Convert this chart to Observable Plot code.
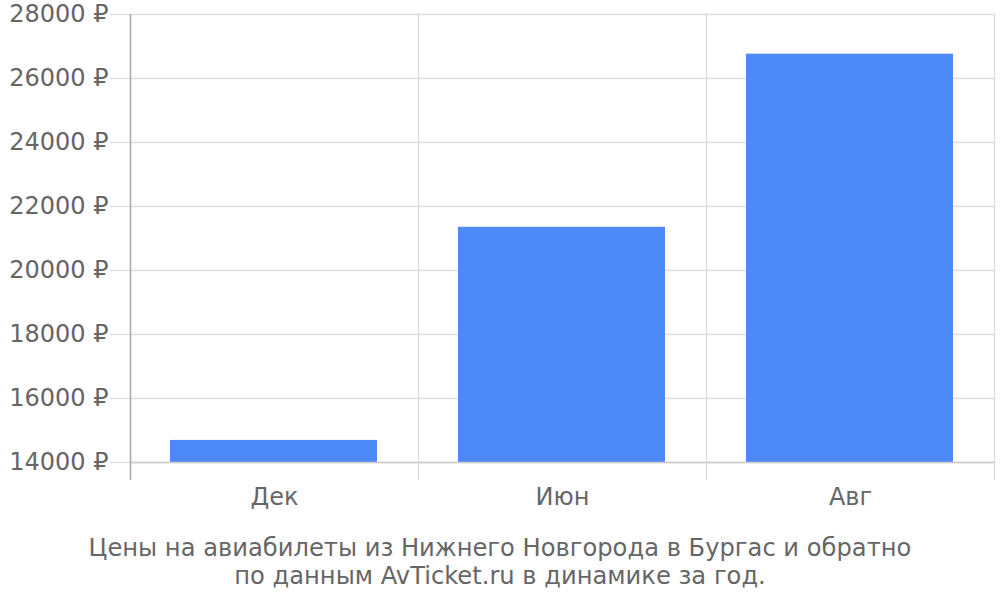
<!DOCTYPE html>
<html><head><meta charset="utf-8">
<script src="https://cdn.jsdelivr.net/npm/d3@7"></script>
<script src="https://cdn.jsdelivr.net/npm/@observablehq/plot@0.6"></script>
<style>
body{margin:0;background:#fff;font-family:"DejaVu Sans",sans-serif;}
#wrap{position:relative;width:1000px;height:600px;}
#cap{position:absolute;left:0;top:534px;width:1000px;text-align:center;color:#666;font-size:24.2px;line-height:28px;}
</style></head>
<body><div id="wrap"><div id="chart"></div>
<div id="cap">Цены на авиабилеты из Нижнего Новгорода в Бургас и обратно<br>по данным AvTicket.ru в динамике за год.</div></div>
<script>
const months = ["Дек", "Июн", "Авг"];
const prices = [14690, 21350, 26760];
const yTicks = [14000, 16000, 18000, 20000, 22000, 24000, 26000, 28000];

const data = months.map((m, i) => ({month: m, price: prices[i]}));
const bw = (1000 - 130 - 6) / months.length;

const chart = Plot.plot({
  width: 1000, height: 510,
  marginTop: 14, marginLeft: 130, marginRight: 6, marginBottom: 30,
  style: {fontFamily: "DejaVu Sans, sans-serif", fontSize: "24px", color: "#666", background: "#fff"},
  x: {domain: months, padding: 0},
  y: {domain: [14000, 28000], range: [462, 14]},
  marks: [
    Plot.ruleY(yTicks, {stroke: "#ddd", strokeWidth: 1.3, strokeOpacity: 1}),
    Plot.ruleX(months, {x: d => d, dx: -bw / 2, stroke: "#ddd", strokeWidth: 1.3}),
    Plot.ruleX([months[months.length - 1]], {x: d => d, dx: bw / 2, stroke: "#ddd", strokeWidth: 1.3}),
    Plot.barY(data, {x: "month", y1: 14000, y2: "price", fill: "#4d89f9", insetLeft: 40, insetRight: 41}),
    Plot.ruleY([14000], {stroke: "#ccc", strokeWidth: 1.3}),
    Plot.ruleX([months[0]], {x: d => d, dx: -bw / 2, stroke: "#aaa", strokeWidth: 1.5}),
    Plot.axisY({ticks: yTicks, tickFormat: d => d + " ₽", tickSize: 20, tickPadding: 2, stroke: "#ddd", strokeOpacity: 1, strokeWidth: 1.3, label: null, fill: "#666"}),
    Plot.axisX({tickSize: 0, tickPadding: 7, label: null, fill: "#666"})
  ]
});
document.getElementById("chart").appendChild(chart);
</script></body></html>
